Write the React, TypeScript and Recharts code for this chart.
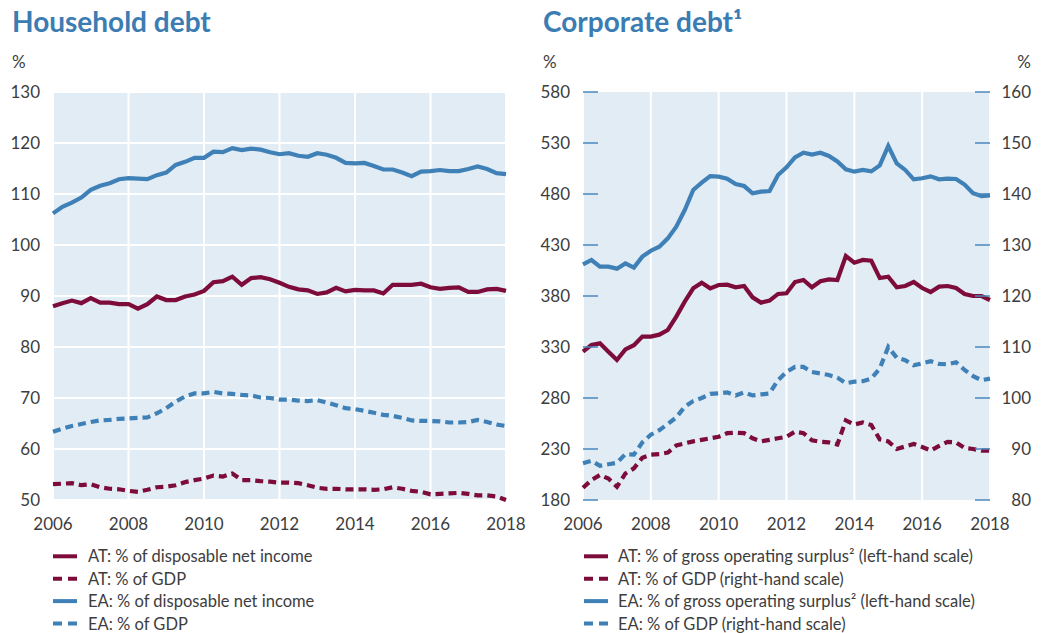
import React from 'react';
import { LineChart, Line, XAxis, YAxis, CartesianGrid } from 'recharts';

const FONT = 'Lato, "Noto Sans", sans-serif';
const CRIMSON = '#7d0c3b';
const BLUE = '#3f80b6';
const BG = '#e1ecf5';
const TEXT = '#3d3d3d';
const TITLE = '#3b7cb3';
const TICKMARK = '#4a88bf';

// Categories: quarterly observations 2006 Q1 .. 2018 Q1, placed on a year axis
const quarterPositions: number[] = Array.from({ length: 49 }, (_, i) => 2006 + i / 4);
const yearTicks = [2006, 2008, 2010, 2012, 2014, 2016, 2018];

// Household debt (%)
const hhAtIncome = [88.0, 88.6, 89.1, 88.6, 89.6, 88.7, 88.7, 88.4, 88.4, 87.5, 88.4, 89.9, 89.2, 89.2, 89.9, 90.3, 91.0, 92.7, 92.9, 93.8, 92.2, 93.5, 93.7, 93.3, 92.6, 91.8, 91.3, 91.1, 90.4, 90.7, 91.6, 90.9, 91.2, 91.1, 91.1, 90.5, 92.2, 92.2, 92.2, 92.4, 91.7, 91.4, 91.6, 91.7, 90.8, 90.8, 91.3, 91.4, 91.0];
const hhAtGdp = [53.1, 53.2, 53.3, 52.9, 53.1, 52.5, 52.2, 52.1, 51.8, 51.6, 52.0, 52.5, 52.6, 52.9, 53.5, 53.9, 54.2, 54.8, 54.6, 55.2, 53.9, 53.9, 53.7, 53.6, 53.4, 53.4, 53.3, 52.9, 52.4, 52.2, 52.2, 52.1, 52.1, 52.1, 52.0, 52.1, 52.5, 52.2, 51.8, 51.6, 51.1, 51.2, 51.3, 51.4, 51.2, 50.9, 50.9, 50.7, 50.0];
const hhEaIncome = [106.2, 107.5, 108.3, 109.3, 110.8, 111.6, 112.1, 112.9, 113.1, 113.0, 112.9, 113.7, 114.2, 115.7, 116.3, 117.1, 117.1, 118.3, 118.2, 119.0, 118.6, 118.9, 118.7, 118.2, 117.8, 118.0, 117.5, 117.3, 118.0, 117.7, 117.1, 116.1, 116.0, 116.1, 115.5, 114.8, 114.8, 114.2, 113.5, 114.4, 114.5, 114.7, 114.5, 114.5, 114.9, 115.4, 114.9, 114.1, 113.9];
const hhEaGdp = [63.4, 64.0, 64.5, 64.9, 65.3, 65.6, 65.7, 65.9, 66.0, 66.1, 66.2, 67.0, 68.0, 69.3, 70.3, 70.9, 70.9, 71.2, 70.9, 70.8, 70.6, 70.5, 70.1, 70.0, 69.7, 69.7, 69.5, 69.4, 69.6, 69.1, 68.6, 68.0, 67.8, 67.5, 67.1, 66.7, 66.5, 66.1, 65.6, 65.5, 65.5, 65.4, 65.2, 65.2, 65.3, 65.7, 65.3, 64.8, 64.5];
const hhTicks = [50, 60, 70, 80, 90, 100, 110, 120, 130];

// Corporate debt (%)
const corpAtSurplus = [325.4, 332, 333.6, 325.4, 317.3, 327.7, 331.7, 340.2, 340.2, 342.1, 346.7, 359.8, 374.5, 387.5, 393, 387.5, 390.8, 391.1, 388.5, 389.8, 378.7, 373.5, 375.5, 382, 382.7, 393.7, 395.7, 388.5, 394.4, 396.3, 395.7, 419.2, 412.7, 415.3, 414.6, 397.6, 398.9, 388.5, 389.8, 393.7, 387.8, 383.9, 389.2, 389.8, 387.8, 382, 380, 380, 376.1];
const corpAtGdp = [82.4, 83.9, 84.9, 84.2, 82.6, 85.2, 86.2, 88.3, 88.9, 89.0, 89.3, 90.7, 91.1, 91.5, 91.8, 92.1, 92.4, 93.1, 93.2, 93.1, 92.1, 91.5, 91.8, 92.1, 92.4, 93.4, 93.1, 91.7, 91.4, 91.3, 90.9, 95.6, 94.8, 95.2, 94.7, 91.9, 91.5, 90.0, 90.5, 91.0, 90.4, 89.7, 90.6, 91.4, 91.3, 90.2, 90.0, 89.7, 89.7];
const corpEaSurplus = [411, 415.3, 408.8, 408.8, 406.8, 412, 407.8, 418.6, 424.4, 428.4, 436.5, 448, 464.3, 483.9, 491.1, 497.6, 497, 495, 489.8, 487.8, 480.7, 482.3, 482.9, 498.6, 506.1, 515.9, 520.5, 518.6, 520.5, 517.3, 512, 504.2, 501.9, 503.6, 502.2, 508.1, 527.1, 510.1, 503.6, 494.4, 495.4, 497.3, 494.4, 495, 494.7, 489.2, 480.7, 478, 478.7];
const corpEaGdp = [87.2, 87.7, 86.7, 87.0, 87.3, 89.0, 88.9, 91.3, 92.8, 93.7, 94.9, 96.2, 98.3, 99.4, 100.0, 100.8, 100.9, 101.1, 100.5, 101.1, 100.5, 100.7, 100.9, 103.5, 105.1, 106.1, 106.1, 105.1, 104.8, 104.5, 104.0, 102.9, 103.2, 103.3, 103.8, 105.8, 110.0, 107.9, 107.4, 106.4, 106.8, 107.2, 106.7, 106.6, 107.0, 105.5, 104.3, 103.5, 103.8];
const corpLeftTicks = [180, 230, 280, 330, 380, 430, 480, 530, 580];
const corpRightTicks = [80, 90, 100, 110, 120, 130, 140, 150, 160];

const hhData = quarterPositions.map((t, i) => ({
  t,
  atIncome: hhAtIncome[i],
  atGdp: hhAtGdp[i],
  eaIncome: hhEaIncome[i],
  eaGdp: hhEaGdp[i],
}));

const corpData = quarterPositions.map((t, i) => ({
  t,
  atSurplus: corpAtSurplus[i],
  atGdp: corpAtGdp[i],
  eaSurplus: corpEaSurplus[i],
  eaGdp: corpEaGdp[i],
}));

const hhLegend = [
  { label: 'AT: % of disposable net income', color: CRIMSON, dashed: false },
  { label: 'AT: % of GDP', color: CRIMSON, dashed: true },
  { label: 'EA: % of disposable net income', color: BLUE, dashed: false },
  { label: 'EA: % of GDP', color: BLUE, dashed: true },
];
const corpLegend = [
  { label: 'AT: % of gross operating surplus² (left-hand scale)', color: CRIMSON, dashed: false },
  { label: 'AT: % of GDP (right-hand scale)', color: CRIMSON, dashed: true },
  { label: 'EA: % of gross operating surplus² (left-hand scale)', color: BLUE, dashed: false },
  { label: 'EA: % of GDP (right-hand scale)', color: BLUE, dashed: true },
];

const TICK_FS = 17;

const XTick = (props: any) => {
  const { x, y, payload } = props;
  return (
    <text x={x} y={y} dy="0.71em" textAnchor="middle" fill={TEXT} fontSize={TICK_FS} fontFamily={FONT}>
      {payload.value}
    </text>
  );
};

const makeLeftTick = (margin: number, mark: boolean) => (props: any) => {
  const { x, y, payload } = props;
  return (
    <g>
      <text x={x} y={y} dy="0.35em" textAnchor="end" fill={TEXT} fontSize={TICK_FS} fontFamily={FONT}>
        {payload.value}
      </text>
      {mark && <line x1={x + margin} x2={x + margin + 15} y1={y} y2={y} stroke={TICKMARK} strokeWidth={1.5} />}
    </g>
  );
};

const RightTick = (props: any) => {
  const { x, y, payload } = props;
  return (
    <g>
      <text x={x + 41} y={y} dy="0.35em" textAnchor="end" fill={TEXT} fontSize={TICK_FS} fontFamily={FONT}>
        {payload.value}
      </text>
      <line x1={x - 15} x2={x} y1={y} y2={y} stroke={TICKMARK} strokeWidth={1.5} />
    </g>
  );
};

const LeftTickHH = makeLeftTick(13, false);
const LeftTickCorp = makeLeftTick(13, true);

const Legend = ({ items, x, textX }: { items: typeof hhLegend; x: number; textX: number }) => (
  <g>
    {items.map((it, i) => {
      const base = 562.3 + i * 22.4;
      return (
        <g key={it.label}>
          <line
            x1={x}
            x2={x + 24}
            y1={base - 6}
            y2={base - 6}
            stroke={it.color}
            strokeWidth={4}
            strokeDasharray={it.dashed ? '9 6' : undefined}
          />
          <text x={textX} y={base} fill={TEXT} fontSize={16.5} fontFamily={FONT}>
            {it.label}
          </text>
        </g>
      );
    })}
  </g>
);

export default function App() {
  return (
    <div style={{ position: 'absolute', left: 0, top: 0, width: 1042, height: 633, background: '#fff', fontFamily: FONT }}>
      <div style={{ position: 'absolute', left: 0, top: 0 }}>
        <LineChart width={540} height={540} data={hhData} margin={{ top: 92, right: 34, bottom: 0, left: 0 }}>
          <CartesianGrid fill={BG} stroke="#ffffff" strokeWidth={2} vertical horizontal />
          <XAxis
            dataKey="t"
            type="number"
            domain={[2006, 2018]}
            ticks={yearTicks}
            interval={0}
            axisLine={false}
            tickLine={false}
            tickSize={0}
            tickMargin={18}
            height={40}
            tick={<XTick />}
          />
          <YAxis
            type="number"
            domain={[50, 130]}
            ticks={hhTicks}
            interval={0}
            axisLine={false}
            tickLine={false}
            tickSize={0}
            tickMargin={13}
            width={53}
            tick={<LeftTickHH />}
          />
          <Line dataKey="eaGdp" stroke={BLUE} strokeWidth={4.2} strokeDasharray="8 5" dot={false} isAnimationActive={false} />
          <Line dataKey="atGdp" stroke={CRIMSON} strokeWidth={4.2} strokeDasharray="8 5" dot={false} isAnimationActive={false} />
          <Line dataKey="eaIncome" stroke={BLUE} strokeWidth={4.2} dot={false} isAnimationActive={false} />
          <Line dataKey="atIncome" stroke={CRIMSON} strokeWidth={4.2} dot={false} isAnimationActive={false} />
        </LineChart>
      </div>
      <div style={{ position: 'absolute', left: 520, top: 0 }}>
        <LineChart width={522} height={540} data={corpData} margin={{ top: 92, right: 0, bottom: 0, left: 0 }}>
          <CartesianGrid fill={BG} stroke="#ffffff" strokeWidth={2} vertical horizontal={false} yAxisId="l" />
          <XAxis
            dataKey="t"
            type="number"
            domain={[2006, 2018]}
            ticks={yearTicks}
            interval={0}
            axisLine={false}
            tickLine={false}
            tickSize={0}
            tickMargin={18}
            height={40}
            tick={<XTick />}
          />
          <YAxis
            yAxisId="l"
            orientation="left"
            type="number"
            domain={[180, 580]}
            ticks={corpLeftTicks}
            interval={0}
            axisLine={false}
            tickLine={false}
            tickSize={0}
            tickMargin={13}
            width={63}
            tick={<LeftTickCorp />}
          />
          <YAxis
            yAxisId="r"
            orientation="right"
            type="number"
            domain={[80, 160]}
            ticks={corpRightTicks}
            interval={0}
            axisLine={false}
            tickLine={false}
            tickSize={0}
            tickMargin={0}
            width={52}
            tick={<RightTick />}
          />
          <Line yAxisId="r" dataKey="eaGdp" stroke={BLUE} strokeWidth={4.2} strokeDasharray="8 5" dot={false} isAnimationActive={false} />
          <Line yAxisId="r" dataKey="atGdp" stroke={CRIMSON} strokeWidth={4.2} strokeDasharray="8 5" dot={false} isAnimationActive={false} />
          <Line yAxisId="l" dataKey="eaSurplus" stroke={BLUE} strokeWidth={4.2} dot={false} isAnimationActive={false} />
          <Line yAxisId="l" dataKey="atSurplus" stroke={CRIMSON} strokeWidth={4.2} dot={false} isAnimationActive={false} />
        </LineChart>
      </div>
      <svg width={1042} height={633} style={{ position: 'absolute', left: 0, top: 0, pointerEvents: 'none' }}>
        <text x={12} y={32} fill={TITLE} fontSize={28} fontWeight={700} fontFamily={FONT}>Household debt</text>
        <text x={543} y={32} fill={TITLE} fontSize={28} fontWeight={700} fontFamily={FONT}>Corporate debt¹</text>
        <text x={12} y={68} fill={TEXT} fontSize={17} fontFamily={FONT}>%</text>
        <text x={543} y={68} fill={TEXT} fontSize={17} fontFamily={FONT}>%</text>
        <text x={1031} y={68} fill={TEXT} fontSize={17} fontFamily={FONT} textAnchor="end">%</text>
        <Legend items={hhLegend} x={53} textX={88} />
        <Legend items={corpLegend} x={584} textX={618} />
      </svg>
    </div>
  );
}
